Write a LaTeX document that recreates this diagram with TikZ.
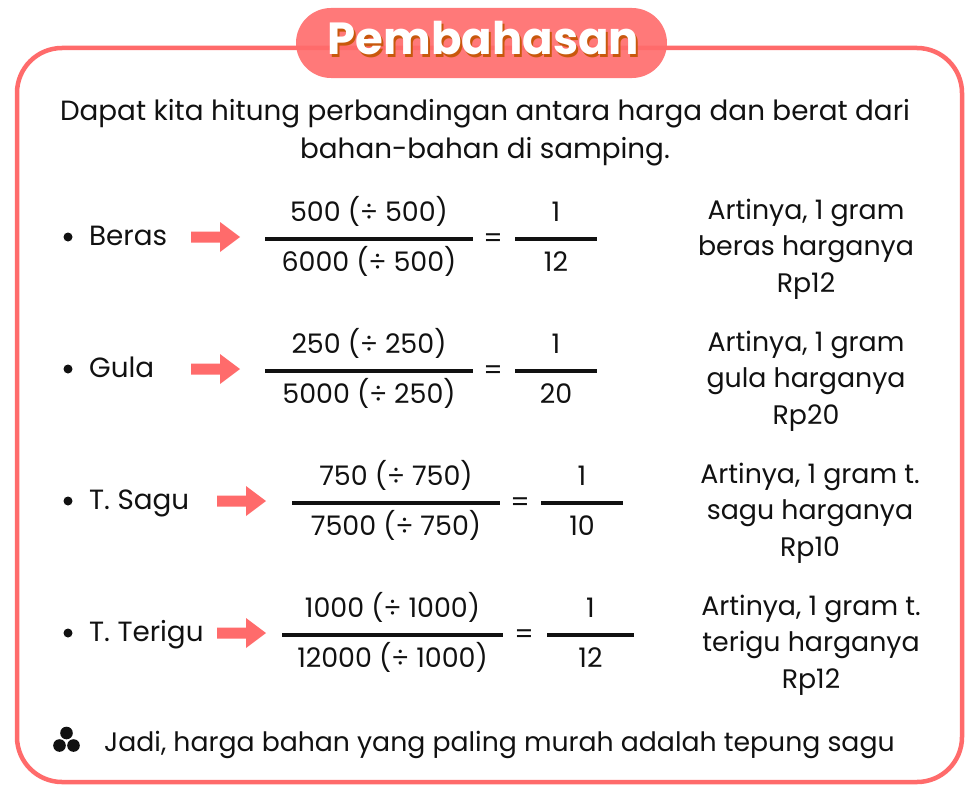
\documentclass[tikz,border=0pt]{standalone}
\usepackage{fontspec}
\setmainfont{Poppins}
\definecolor{coral}{HTML}{FF6B6B}
\definecolor{shade}{HTML}{C8580C}
\definecolor{ink}{HTML}{111111}
\tikzset{
  body/.style={font=\fontsize{27.8}{37.6}\selectfont, text=ink, inner sep=0pt},
  frac/.style={font=\fontsize{26.9}{28}\selectfont, text=ink, inner sep=0pt, anchor=base},
  label/.style={body, anchor=base west},
  note/.style={font=\fontsize{26.8}{36.6}\selectfont, text=ink, inner sep=0pt, anchor=base, align=center},
  barline/.style={ink, line width=4.5pt},
  pointer/.style={fill=coral, draw=none},
  dot/.style={fill=ink, draw=none},
}
\newcommand{\arrowshape}[2]{% x-left, y-center
  \fill[pointer] (#1,#2-5.5) -- ++(29,0) -- ++(0,-9.5) -- ++(20,15) -- ++(-20,15) -- ++(0,-9.5) -- ++(-29,0) -- cycle;}
\begin{document}
\begin{tikzpicture}[x=1pt,y=-1pt]
\useasboundingbox (0,0) rectangle (971,800);
\fill[white] (0,0) rectangle (971,800);
% frame
\draw[coral, line width=4.5pt, rounded corners=45pt] (17,48) rectangle (962,782);
% title pill
\fill[coral, opacity=0.9, rounded corners=35pt] (296,8) rectangle (667,78);
\node[font=\bfseries\fontsize{45}{45}\selectfont, text=shade, anchor=base, inner sep=0pt] (tshadow) at (485.5,57) {Pembahasan};
\node[font=\bfseries\fontsize{45}{45}\selectfont, text=white, anchor=base, inner sep=0pt] (title) at (483.5,55) {Pembahasan};
% intro
\node[body, anchor=base] (intro1) at (485,120.7) {Dapat kita hitung perbandingan antara harga dan berat dari};
\node[body, anchor=base] (intro2) at (485,158.3) {bahan-bahan di samping.};

% ---------- rows ----------
% row 1
\fill[dot] (68,237) circle (4.5);
\node[label] (l1) at (89,245.7) {Beras};
\arrowshape{191}{237}
\node[frac] (n1) at (369,221.7) {500 (÷ 500)};
\node[frac] (d1) at (369,271.7) {6000 (÷ 500)};
\coordinate (a1) at (265,239); \coordinate (b1) at (473,239);
\draw[barline] (a1) -- (b1);
\node[frac] (e1) at (493,247) {=};
\node[frac] (rn1) at (556,221.7) {1};
\node[frac] (rd1) at (556,271.7) {12};
\coordinate (c1) at (515,239); \coordinate (f1) at (597,239);
\draw[barline] (c1) -- (f1);
\node[note] (t1) at (806,292.3) {Artinya, 1 gram\\beras harganya\\Rp12};

% row 2
\fill[dot] (68,369) circle (4.5);
\node[label] (l2) at (89,377.7) {Gula};
\arrowshape{191}{369}
\node[frac] (n2) at (369,353.7) {250 (÷ 250)};
\node[frac] (d2) at (369,403.7) {5000 (÷ 250)};
\coordinate (a2) at (265,371); \coordinate (b2) at (473,371);
\draw[barline] (a2) -- (b2);
\node[frac] (e2) at (493,379) {=};
\node[frac] (rn2) at (556,353.7) {1};
\node[frac] (rd2) at (556,403.7) {20};
\coordinate (c2) at (515,371); \coordinate (f2) at (597,371);
\draw[barline] (c2) -- (f2);
\node[note] (t2) at (806,424.3) {Artinya, 1 gram\\gula harganya\\Rp20};

% row 3
\fill[dot] (68,501) circle (4.5);
\node[label] (l3) at (89,509.7) {T. Sagu};
\arrowshape{217}{501}
\node[frac] (n3) at (396,485.7) {750 (÷ 750)};
\node[frac] (d3) at (396,535.7) {7500 (÷ 750)};
\coordinate (a3) at (292,503); \coordinate (b3) at (500,503);
\draw[barline] (a3) -- (b3);
\node[frac] (e3) at (520,511) {=};
\node[frac] (rn3) at (582,485.7) {1};
\node[frac] (rd3) at (582,535.7) {10};
\coordinate (c3) at (541,503); \coordinate (f3) at (623,503);
\draw[barline] (c3) -- (f3);
\node[note] (t3) at (810,556.3) {Artinya, 1 gram t.\\sagu harganya\\Rp10};

% row 4
\fill[dot] (68,633) circle (4.5);
\node[label] (l4) at (89,641.7) {T. Terigu};
\arrowshape{217}{633}
\node[frac] (n4) at (392.5,617.7) {1000 (÷ 1000)};
\node[frac] (d4) at (392.5,667.7) {12000 (÷ 1000)};
\coordinate (a4) at (282,635); \coordinate (b4) at (503,635);
\draw[barline] (a4) -- (b4);
\node[frac] (e4) at (524,643) {=};
\node[frac] (rn4) at (590.5,617.7) {1};
\node[frac] (rd4) at (590.5,667.7) {12};
\coordinate (c4) at (547,635); \coordinate (f4) at (634,635);
\draw[barline] (c4) -- (f4);
\node[note] (t4) at (811,688.3) {Artinya, 1 gram t.\\terigu harganya\\Rp12};

% conclusion
\fill[dot] (66.5,733) circle (6.3);
\fill[dot] (59.5,745.5) circle (6.3);
\fill[dot] (73.5,745.5) circle (6.3);
\node[font=\fontsize{26.7}{30}\selectfont, text=ink, inner sep=0pt, anchor=base west] (concl) at (104,751.7) {Jadi, harga bahan yang paling murah adalah tepung sagu};
\end{tikzpicture}
\end{document}
